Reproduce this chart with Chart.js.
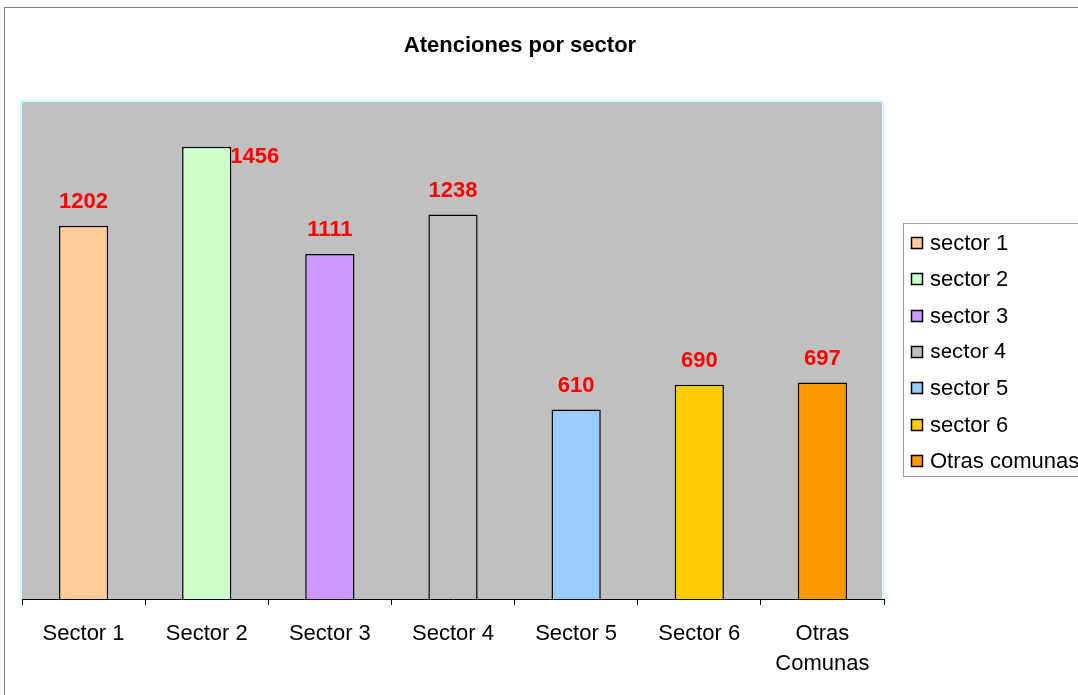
<!DOCTYPE html>
<html>
<head>
<meta charset="utf-8">
<script src="https://cdn.jsdelivr.net/npm/chart.js@4.4.1/dist/chart.umd.min.js"></script>
<style>
html,body{margin:0;padding:0;background:#fff;}
#wrap{width:1078px;height:695px;position:relative;}
</style>
</head>
<body>
<div id="wrap"><canvas id="c" width="1078" height="695"></canvas></div>
<script>
const categories = ["Sector 1", "Sector 2", "Sector 3", "Sector 4", "Sector 5", "Sector 6", ["Otras", "Comunas"]];
const legendLabels = ["sector 1", "sector 2", "sector 3", "sector 4", "sector 5", "sector 6", "Otras comunas"];
const values = [1202, 1456, 1111, 1238, 610, 690, 697];
const barColors = ["#FFCC99", "#CCFFCC", "#CC99FF", "#C0C0C0", "#99CCFF", "#FFCC00", "#FF9900"];
const chartTitle = "Atenciones por sector";
const yMax = 1600;

const FONT = "'Liberation Sans', Arial, sans-serif";

const framePlugin = {
  id: 'frame',
  beforeDraw(chart) {
    const ctx = chart.ctx;
    const a = chart.chartArea;
    ctx.save();
    ctx.fillStyle = '#fff';
    ctx.fillRect(0, 0, chart.width, chart.height);
    ctx.strokeStyle = '#7f7f7f';
    ctx.lineWidth = 1;
    ctx.strokeRect(4.5, 7.5, chart.width + 20, chart.height + 20);
    ctx.fillStyle = '#C0C0C0';
    ctx.fillRect(a.left, a.top, a.right - a.left, a.bottom - a.top);
    ctx.strokeStyle = '#CCFFFF';
    ctx.lineWidth = 2;
    ctx.beginPath();
    ctx.moveTo(a.left - 1, a.bottom);
    ctx.lineTo(a.left - 1, a.top - 1);
    ctx.lineTo(a.right - 1, a.top - 1);
    ctx.lineTo(a.right - 1, a.bottom);
    ctx.stroke();
    ctx.restore();
  },
  afterDraw(chart) {
    const ctx = chart.ctx;
    ctx.save();
    // title
    ctx.fillStyle = '#000';
    ctx.font = "bold 22px " + FONT;
    ctx.textAlign = 'center';
    ctx.textBaseline = 'middle';
    ctx.fillText(chartTitle, 520, 46);
    // legend
    const lx = 903, ly = 223, lw = 200, lh = 253;
    ctx.strokeStyle = '#a0a0a0';
    ctx.lineWidth = 1;
    ctx.strokeRect(lx + 0.5, ly + 0.5, lw, lh);
    const ds = chart.data.datasets[0];
    ctx.textAlign = 'left';
    legendLabels.forEach((lab, i) => {
      const cy = 243 + i * 36.3;
      const top = Math.round(cy) - 6;
      ctx.fillStyle = ds.backgroundColor[i];
      ctx.fillRect(911, top, 12, 12);
      ctx.strokeStyle = '#000';
      ctx.lineWidth = 1.5;
      ctx.strokeRect(911.5, top + 0.5, 11, 11);
      ctx.fillStyle = '#000';
      ctx.font = (lab === "sector 4" ? "21px Roboto, " : "22px ") + FONT;
      ctx.fillText(lab, 930, cy + 1);
    });
    ctx.restore();
  },
  afterDatasetsDraw(chart) {
    const ctx = chart.ctx;
    const meta = chart.getDatasetMeta(0);
    const data = chart.data.datasets[0].data;
    const maxVal = Math.max(...data);
    ctx.save();
    ctx.fillStyle = '#FF0000';
    ctx.font = "bold 22px " + FONT;
    ctx.textBaseline = 'middle';
    meta.data.forEach((bar, i) => {
      const p = bar.getProps(['x', 'y', 'width'], true);
      if (data[i] === maxVal) {
        ctx.textAlign = 'left';
        ctx.fillText(String(data[i]), p.x + p.width / 2 - 1, p.y + 10);
      } else {
        ctx.textAlign = 'center';
        ctx.fillText(String(data[i]), p.x, p.y - 24);
      }
    });
    ctx.restore();
  }
};

new Chart(document.getElementById('c'), {
  type: 'bar',
  data: {
    labels: categories,
    datasets: [{
      data: values,
      backgroundColor: barColors,
      borderColor: '#000',
      borderWidth: 1.5,
      barPercentage: 0.4,
      categoryPercentage: 1
    }]
  },
  options: {
    responsive: false,
    animation: false,
    devicePixelRatio: 1,
    layout: { padding: { left: 22, right: 194, top: 102, bottom: 0 } },
    plugins: { legend: { display: false }, title: { display: false }, tooltip: { enabled: false } },
    scales: {
      y: { display: false, min: 0, max: yMax },
      x: {
        offset: true,
        grid: { display: true, offset: true, drawOnChartArea: false, color: '#000', tickLength: 6, lineWidth: 1 },
        border: { display: true, color: '#000', width: 1 },
        ticks: { color: '#000', font: { family: FONT, size: 22, lineHeight: 1.36 }, padding: 14, maxRotation: 0, autoSkip: false },
        afterFit(scale) { scale.height = 96; }
      }
    }
  },
  plugins: [framePlugin]
});
</script>
</body>
</html>
